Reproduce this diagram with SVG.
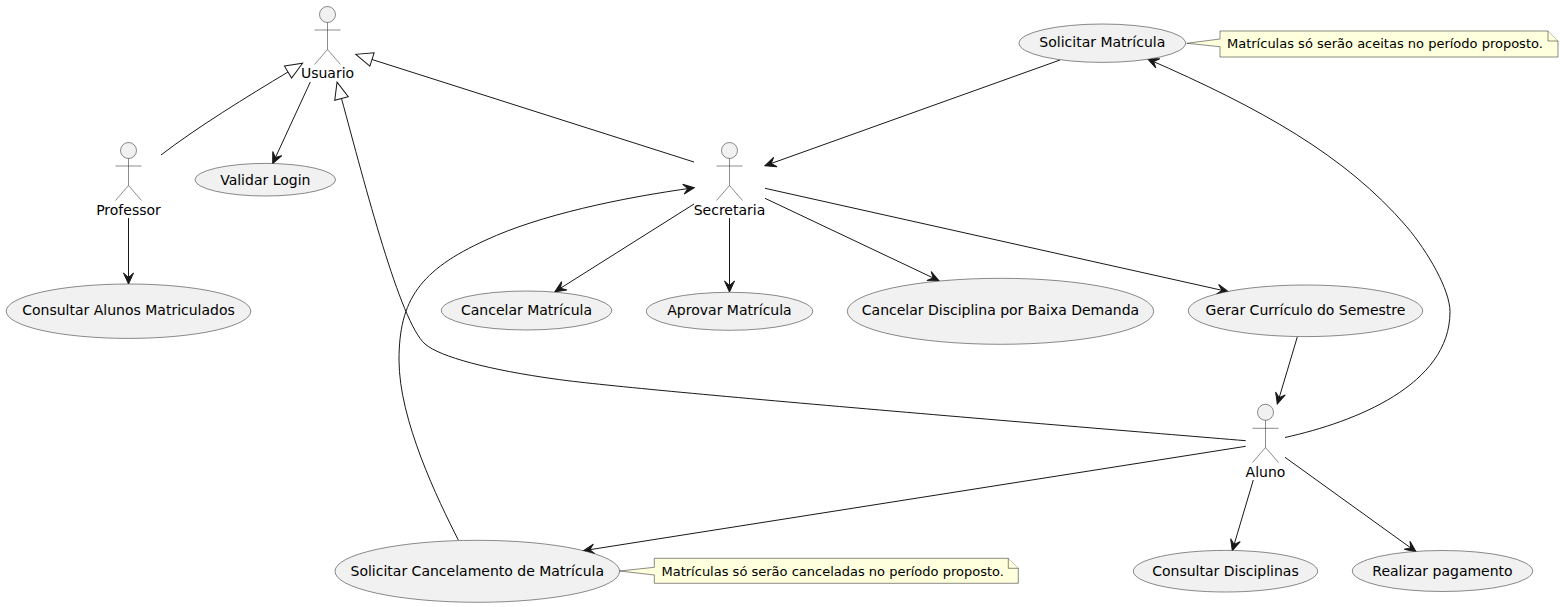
<svg xmlns="http://www.w3.org/2000/svg" width="1564" height="607" viewBox="0 0 1564 607">
<style>
text{font-family:"DejaVu Sans",sans-serif;font-size:14px;fill:#000;text-anchor:middle}
.n{font-size:13px;text-anchor:start}
ellipse{fill:#F1F1F1;stroke:#181818;stroke-width:.5}
.a circle{fill:#F1F1F1;stroke:#181818;stroke-width:.5}
.a path{fill:none;stroke:#181818;stroke-width:.5}
.note path{fill:#FEFFDD;stroke:#181818;stroke-width:.5}
#connectors path{fill:none;stroke:#181818;stroke-width:1}
#connectors .e{marker-end:url(#arrow)}
#connectors .g{marker-end:url(#tri)}
</style>
<defs>
<marker id="arrow" markerUnits="userSpaceOnUse" orient="auto" overflow="visible" markerWidth="12" markerHeight="10" refX="0" refY="0"><path d="M0,0 L-11,-5 L-6.5,0 L-11,5Z" fill="#181818" stroke="#181818" stroke-width="1"/></marker>
<marker id="tri" markerUnits="userSpaceOnUse" orient="auto" overflow="visible" markerWidth="20" markerHeight="16" refX="0" refY="0"><path d="M0,-7 L17,0 L0,7Z" fill="none" stroke="#181818" stroke-width="1"/></marker>
</defs>
<g id="connectors">
<path class="g" d="M161,155 C196,128 248,96 288,72"/>
<path class="g" d="M694,162 L372,59.5"/>
<path class="g" d="M1245.7,440.7 C1080,427 630,390 555,379 C490,370 440,357 425,344 C400,322 365,185 341.5,98.5"/>
<path class="e" d="M310.3,82 L272.7,163.5"/>
<path class="e" d="M128.5,218 L128.5,284"/>
<path class="e" d="M458.3,540 C438,500 399,420 399,360 C399,300 420,270 486,240 C540,215 620,198 694.3,187.7"/>
<path class="e" d="M694,204 L555,291.7"/>
<path class="e" d="M729.5,218 L729.5,292"/>
<path class="e" d="M765,198.3 L939,280.7"/>
<path class="e" d="M765,188.3 L1228.3,291.7"/>
<path class="e" d="M1060,60 L765,165.7"/>
<path class="e" d="M1297.3,337 L1277.3,404"/>
<path class="e" d="M1285,437.5 C1355,422 1450,385 1450,311.7 C1450,290 1428,252 1406.7,226.7 C1345,155 1260,108 1147.7,59"/>
<path class="e" d="M1245.7,446.3 L583.3,550.7"/>
<path class="e" d="M1253.3,480 L1232.3,550.7"/>
<path class="e" d="M1285,457.3 L1416,551.7"/>
</g>
<g id="usuario" class="a"><circle cx="327.5" cy="14.5" r="8"/><path d="M327.5,22.5V49.5M314.5,30H340.5M327.5,49.5L314.5,64.5M327.5,49.5L340.5,64.5"/><text x="327.5" y="77.7">Usuario</text></g>
<g id="professor" class="a"><circle cx="128.5" cy="150.5" r="8"/><path d="M128.5,158.5V185.5M115.5,166H141.5M128.5,185.5L115.5,200.5M128.5,185.5L141.5,200.5"/><text x="128.5" y="215">Professor</text></g>
<g id="secretaria" class="a"><circle cx="729.5" cy="150.5" r="8"/><path d="M729.5,158.5V185.5M716.5,166H742.5M729.5,185.5L716.5,200.5M729.5,185.5L742.5,200.5"/><text x="729.5" y="215">Secretaria</text></g>
<g id="aluno" class="a"><circle cx="1265.5" cy="412.3" r="8"/><path d="M1265.5,420.3V447.5M1252.5,428.3H1278.5M1265.5,447.5L1252.5,462.5M1265.5,447.5L1278.5,462.5"/><text x="1265.5" y="477">Aluno</text></g>
<g id="validar-login"><ellipse cx="265.3" cy="179.7" rx="70.3" ry="16.3"/><text x="265.3" y="184.5">Validar Login</text></g>
<g id="consultar-alunos"><ellipse cx="128.5" cy="311.2" rx="122.3" ry="27.2"/><text x="128.5" y="315">Consultar Alunos Matriculados</text></g>
<g id="cancelar-matricula"><ellipse cx="526.5" cy="310.5" rx="85.2" ry="19.5"/><text x="526.5" y="314.5">Cancelar Matrícula</text></g>
<g id="aprovar-matricula"><ellipse cx="729.5" cy="311.3" rx="83.2" ry="19"/><text x="729.5" y="314.5">Aprovar Matrícula</text></g>
<g id="cancelar-disciplina"><ellipse cx="1000.5" cy="311.3" rx="153.2" ry="33"/><text x="1000.5" y="314.5">Cancelar Disciplina por Baixa Demanda</text></g>
<g id="gerar-curriculo"><ellipse cx="1305.5" cy="310.8" rx="117.2" ry="25.8"/><text x="1305.5" y="314.5">Gerar Currículo do Semestre</text></g>
<g id="solicitar-matricula"><ellipse cx="1102.3" cy="43.2" rx="83.3" ry="19.2"/><text x="1102.3" y="47.3">Solicitar Matrícula</text></g>
<g id="solicitar-cancelamento"><ellipse cx="477.3" cy="571.3" rx="142.3" ry="31"/><text x="477.3" y="575.5">Solicitar Cancelamento de Matrícula</text></g>
<g id="consultar-disciplinas"><ellipse cx="1225.5" cy="571.2" rx="92.2" ry="20.8"/><text x="1225.5" y="575.5">Consultar Disciplinas</text></g>
<g id="realizar-pagamento"><ellipse cx="1442.5" cy="571" rx="90.2" ry="20.5"/><text x="1442.5" y="575.5">Realizar pagamento</text></g>
<g id="note-matricula" class="note"><path d="M1220,31 L1548,31 L1558,41 L1558,57 L1220,57 L1220,46.7 L1186.7,43.3 L1220,39Z"/><path d="M1548,31 L1548,41 L1558,41"/><text class="n" x="1227" y="47.7">Matrículas só serão aceitas no período proposto.</text></g>
<g id="note-cancelamento" class="note"><path d="M654.3,558.3 L1008.3,558.3 L1018.3,568.3 L1018.3,583.3 L654.3,583.3 L654.3,575 L619.5,571 L654.3,567.3Z"/><path d="M1008.3,558.3 L1008.3,568.3 L1018.3,568.3"/><text class="n" x="661.5" y="575.7">Matrículas só serão canceladas no período proposto.</text></g>
</svg>
